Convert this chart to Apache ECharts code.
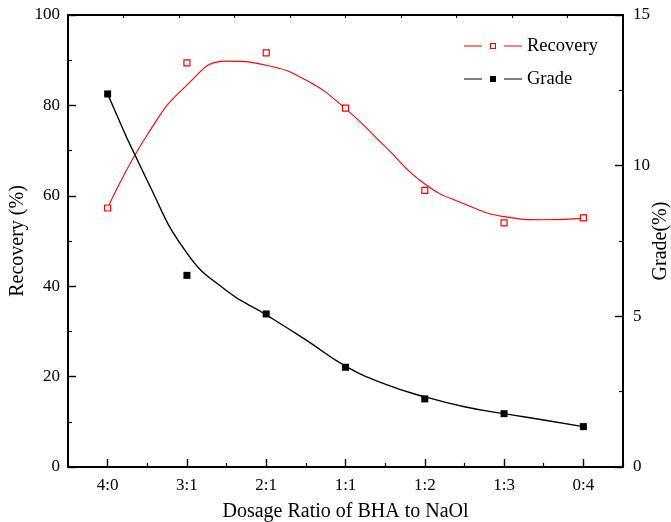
<!DOCTYPE html>
<html><head><meta charset="utf-8">
<script src="https://cdn.jsdelivr.net/npm/echarts@6/dist/echarts.min.js"></script>
<style>html,body{margin:0;padding:0;background:#fff}#c{width:671px;height:522px}</style>
</head><body><div id="c"></div>
<script>
const categories = ['4:0','3:1','2:1','1:1','1:2','1:3','0:4'];
const recovery = [57.3, 89.4, 91.6, 79.4, 61.2, 54.0, 55.1];
const grade = [12.38, 6.36, 5.08, 3.31, 2.26, 1.77, 1.34];
// fitted curves, sampled at category positions (index units)
const fitX = [0, 0.5, 1, 1.5, 2, 2.5, 3, 3.5, 4, 4.5, 5, 5.5, 6];
const recoveryFit = [57.3, 73.5, 84.5, 89.8, 88.9, 85.6, 79.3, 70.9, 62.6, 58.2, 55.4, 54.7, 55.0];
const gradeFit = [12.38, 9.5, 7.1, 5.85, 5.05, 4.22, 3.35, 2.75, 2.33, 2.0, 1.77, 1.56, 1.34];
const leftAxisRange = [0, 100, 20];
const rightAxisRange = [0, 15, 5];

const FONT = 'Liberation Serif';
const chart = echarts.init(document.getElementById('c'));
const recIcon = 'path://M0,2.4H18V3.6H0Z M26,0H32V6H26Z M27.1,1.1V4.9H30.9V1.1Z M40,2.4H58V3.6H40Z';
const grdIcon = 'path://M0,2.4H18V3.6H0Z M26,0H32V6H26Z M40,2.4H58V3.6H40Z';

chart.setOption({
  animation: false,
  backgroundColor: '#fff',
  grid: {left: 68, right: 48, top: 15, bottom: 55, containLabel: false, outerBoundsMode: 'none', show: false},
  legend: {
    orient: 'vertical', left: 459, top: 30, padding: 5, itemWidth: 58, itemHeight: 6, itemGap: 11,
    selectedMode: false,
    textStyle: {fontFamily: FONT, fontSize: 18.5, color: '#000', lineHeight: 22},
    data: [
      {name: 'Recovery', icon: recIcon, itemStyle: {color: '#ff0000', borderWidth: 0}},
      {name: 'Grade', icon: grdIcon, itemStyle: {color: '#000', borderWidth: 0}}
    ]
  },
  xAxis: [
    {type: 'category', data: categories, position: 'bottom', boundaryGap: true,
     axisLine: {show: true, onZero: false, lineStyle: {color: '#000', width: 1.8}},
     axisTick: {show: true, inside: true, length: 8, alignWithLabel: true, lineStyle: {color: '#000', width: 1.4}},
     axisLabel: {fontFamily: FONT, fontSize: 17, color: '#000', margin: 10},
     name: 'Dosage Ratio of BHA to NaOl', nameLocation: 'middle', nameGap: 35, nameMoveOverlap: false,
     nameTextStyle: {fontFamily: FONT, fontSize: 20, color: '#000'}},
    {type: 'category', data: categories, position: 'bottom', boundaryGap: true,
     axisLine: {show: false, onZero: false},
     axisTick: {show: true, inside: true, length: 4, lineStyle: {color: '#000', width: 1.2}},
     axisLabel: {show: false}},
    {type: 'value', min: -0.5, max: 6.5, show: false, axisLine: {show: false, onZero: false}},
    {type: 'value', position: 'top', min: 0, max: 10, interval: 1,
     axisLine: {show: true, onZero: false, lineStyle: {color: '#000', width: 1.8}},
     axisTick: {show: true, inside: true, length: 3, lineStyle: {color: '#000', width: 1}},
     axisLabel: {show: false}, splitLine: {show: false}}
  ],
  yAxis: [
    {type: 'value', min: leftAxisRange[0], max: leftAxisRange[1], interval: leftAxisRange[2], position: 'left', z: 10,
     axisLine: {show: true, onZero: false, lineStyle: {color: '#000', width: 2}},
     axisTick: {show: true, inside: true, length: 8, lineStyle: {color: '#000', width: 1.4}},
     minorTick: {show: true, splitNumber: 2, length: 4, lineStyle: {color: '#000', width: 1.2}},
     axisLabel: {fontFamily: FONT, fontSize: 17, color: '#000', margin: 8},
     splitLine: {show: false},
     name: 'Recovery (%)', nameLocation: 'middle', nameGap: 40, nameMoveOverlap: false,
     nameTextStyle: {fontFamily: FONT, fontSize: 20, color: '#000'}},
    {type: 'value', min: rightAxisRange[0], max: rightAxisRange[1], interval: rightAxisRange[2], position: 'right', z: 10,
     axisLine: {show: true, onZero: false, lineStyle: {color: '#000', width: 2}},
     axisTick: {show: true, inside: true, length: 8, lineStyle: {color: '#000', width: 1.4}},
     minorTick: {show: true, splitNumber: 2, length: 4, lineStyle: {color: '#000', width: 1.2}},
     axisLabel: {fontFamily: FONT, fontSize: 17, color: '#000', margin: 10},
     splitLine: {show: false},
     name: 'Grade(%)', nameLocation: 'middle', nameGap: 28, nameMoveOverlap: false,
     nameTextStyle: {fontFamily: FONT, fontSize: 20, color: '#000'}}
  ],
  series: [
    {name: 'Recovery', type: 'line', xAxisIndex: 2, yAxisIndex: 0, smooth: 0.5, symbol: 'none',
     color: '#ff0000', lineStyle: {color: '#ff0000', width: 1.1},
     data: fitX.map((x, i) => [x, recoveryFit[i]]), z: 2},
    {name: 'Grade', type: 'line', xAxisIndex: 2, yAxisIndex: 1, smooth: 0.5, symbol: 'none',
     color: '#000', lineStyle: {color: '#000', width: 1.4},
     data: fitX.map((x, i) => [x, gradeFit[i]]), z: 2},
    {name: 'RecoveryPts', type: 'scatter', xAxisIndex: 0, yAxisIndex: 0, symbol: 'rect', symbolSize: 6,
     itemStyle: {color: '#fff', borderColor: '#ff0000', borderWidth: 1.2, opacity: 1},
     data: recovery, z: 5},
    {name: 'GradePts', type: 'scatter', xAxisIndex: 0, yAxisIndex: 1, symbol: 'rect', symbolSize: 7,
     itemStyle: {color: '#000', opacity: 1},
     data: grade, z: 5}
  ]
});
</script></body></html>
